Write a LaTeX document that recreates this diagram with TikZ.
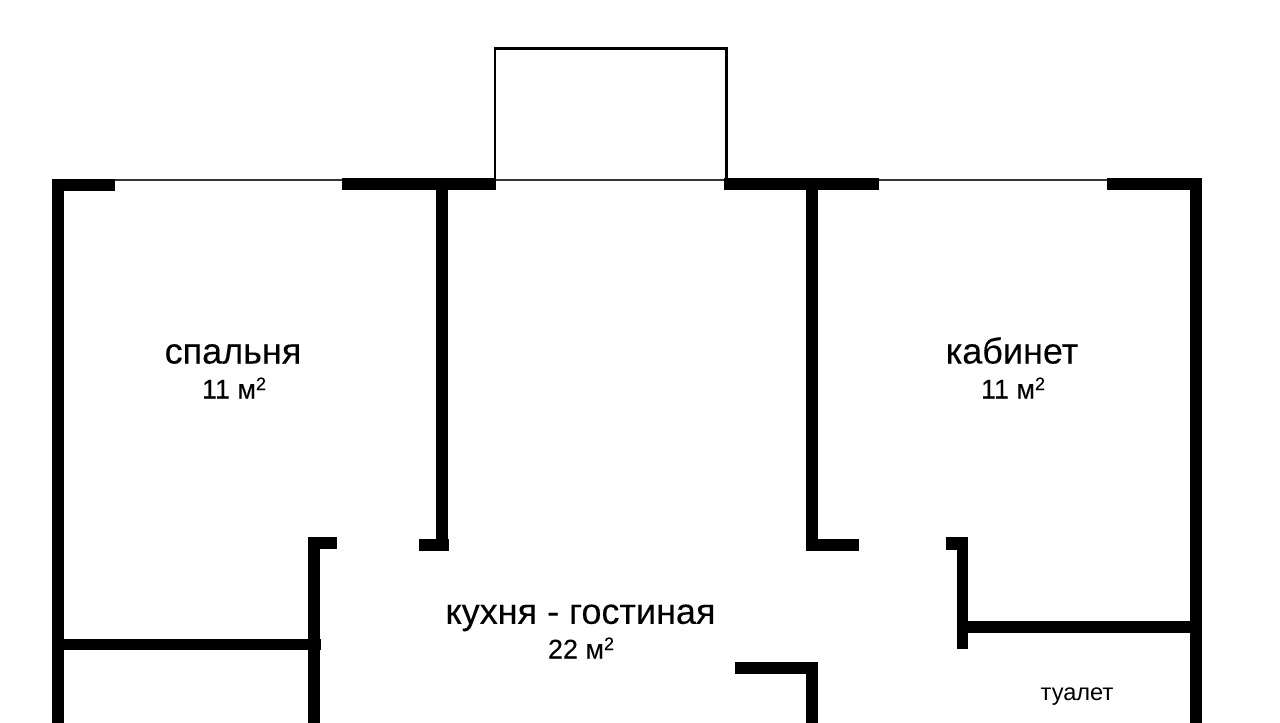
\documentclass[tikz,border=0pt]{standalone}
\usepackage{fontspec}
\setmainfont{Liberation Sans}
\newcommand{\sqmark}{\raisebox{8.5pt}{\fontsize{18}{18}\selectfont 2}}
\tikzset{
  wall/.style={fill=black,draw=none},
  glazing/.style={draw=black!80,line width=1.2pt},
  balcony/.style={draw=black,line width=2.8pt,line join=miter},
  big/.style={font=\fontsize{36}{42}\selectfont\addfontfeature{FakeBold=0.15},inner sep=0pt,anchor=base},
  mid/.style={font=\fontsize{27}{32}\selectfont\addfontfeature{FakeBold=0.1},inner sep=0pt,anchor=base},
  small/.style={font=\fontsize{23.6}{28}\selectfont,inner sep=0pt,anchor=base}
}
\begin{document}
\begin{tikzpicture}[x=1pt,y=-1pt]
\useasboundingbox (0,0) rectangle (1280,723);
% glazing
\draw[glazing] (115,180) -- (342,180);
\draw[glazing] (495,180) -- (724,180);
\draw[glazing] (879,180) -- (1107,180);
% balcony
\draw[balcony] (495,180) -- (495,48.7) -- (726.5,48.7) -- (726.5,180);
% top wall pieces
\fill[wall] (52.3,179) rectangle (115,190.5);
\fill[wall] (342,178) rectangle (495.7,190);
\fill[wall] (724,178) rectangle (879.3,190);
\fill[wall] (1106.7,178) rectangle (1201.8,190);
% outer walls
\fill[wall] (52.3,179) rectangle (64.3,723);
\fill[wall] (1190,178) rectangle (1201.8,723);
% partitions
\fill[wall] (436.3,190) rectangle (448.3,551);
\fill[wall] (419,539) rectangle (448.7,551);
\fill[wall] (806,190) rectangle (818,551);
\fill[wall] (806,539) rectangle (859,551);
\fill[wall] (308,537) rectangle (320,723);
\fill[wall] (308,537) rectangle (336.7,549.3);
\fill[wall] (64,639) rectangle (320.7,650.3);
\fill[wall] (946,537) rectangle (968.3,549.7);
\fill[wall] (956.7,537) rectangle (968.3,649.3);
\fill[wall] (968,621.3) rectangle (1190.5,633);
\fill[wall] (734.7,662.3) rectangle (818.3,674);
\fill[wall] (806,662.3) rectangle (818.3,723);
% labels
\node[big] (t1) at (233,363.5) {спальня};
\node[mid] (a1) at (234,398.5) {11 м\sqmark};
\node[big] (t2) at (1012,363.5) {кабинет};
\node[mid] (a2) at (1013,398.5) {11 м\sqmark};
\node[big] (t3) at (580.5,623.8) {кухня - гостиная};
\node[mid] (a3) at (581,658.5) {22 м\sqmark};
\node[small] (t4) at (1077,700.3) {туалет};
\end{tikzpicture}
\end{document}
